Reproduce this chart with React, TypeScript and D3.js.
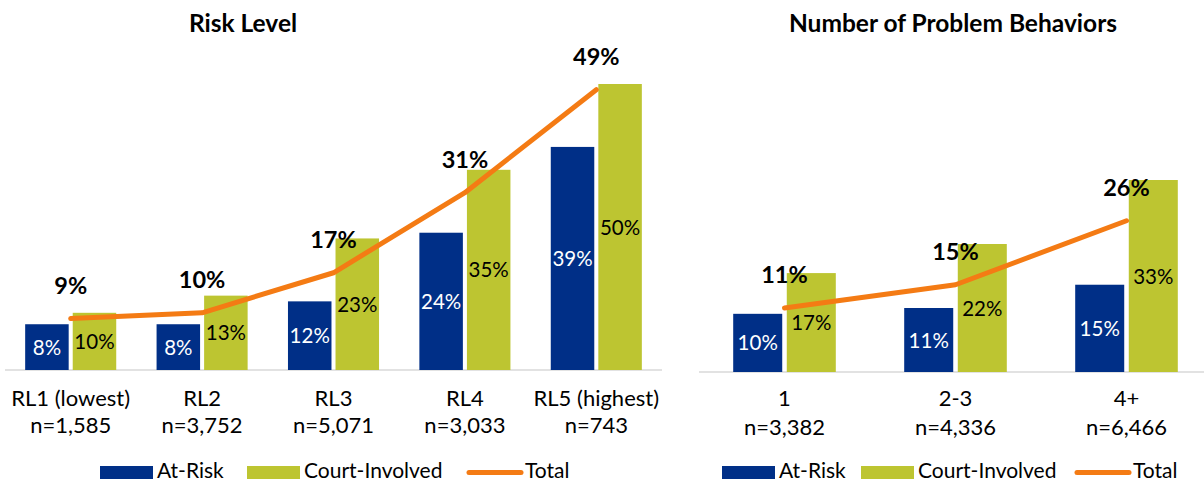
import React from "react";
import { scaleBand, scaleLinear, line } from "d3";

// Risk Level panel
const riskCats = ["RL1 (lowest)", "RL2", "RL3", "RL4", "RL5 (highest)"];
const riskN = ["n=1,585", "n=3,752", "n=5,071", "n=3,033", "n=743"];
const riskAtRisk = [8, 8, 12, 24, 39];
const riskCourt = [10, 13, 23, 35, 50];
const riskTotal = [9, 10, 17, 31, 49];

// Number of Problem Behaviors panel
const probCats = ["1", "2-3", "4+"];
const probN = ["n=3,382", "n=4,336", "n=6,466"];
const probAtRisk = [10, 11, 15];
const probCourt = [17, 22, 33];
const probTotal = [11, 15, 26];

const seriesNames = ["At-Risk", "Court-Involved"];
const NAVY = "#002F87";
const GREEN = "#BDC531";
const ORANGE = "#F47B14";
const FONT = "Lato, 'Noto Sans', sans-serif";

const Panel = ({ title, titleX, cats, nLabels, atRisk, court, total, xRange, yRange, yMax, axisEnd, inner, legendX, legendOff, catY }) => {
  const x0 = scaleBand()
    .domain(cats)
    .range(xRange)
    .paddingInner(inner)
    .paddingOuter(inner / 2);
  const x1 = scaleBand().domain(seriesNames).range([0, x0.bandwidth()]).paddingInner(0.085);
  const y = scaleLinear().domain([0, yMax]).range(yRange);
  const base = y(0);
  const center = (c) => x0(c) + x0.bandwidth() / 2;
  const pts = cats.map((c, i) => [center(c), y(total[i])]);
  const path = line()(pts);
  const vals = [atRisk, court];
  const [courtOff, lineOff] = legendOff;

  return (
    <g>
      <text x={titleX} y={32} textAnchor="middle" fontWeight="bold" fontSize={24.5} fontFamily={FONT}>
        {title}
      </text>
      <line x1={xRange[0]} x2={axisEnd} y1={base} y2={base} stroke="#D9D9D9" strokeWidth={1.5} />
      {cats.map((c, i) =>
        seriesNames.map((s, j) => {
          const v = vals[j][i];
          const bx = x0(c) + x1(s);
          const top = y(v);
          return (
            <g key={c + s}>
              <rect x={bx} y={top} width={x1.bandwidth()} height={base - top} fill={j === 0 ? NAVY : GREEN} />
              <text
                x={bx + x1.bandwidth() / 2}
                y={(top + base) / 2 + 7.5}
                textAnchor="middle"
                fontSize={20.5}
                fontFamily={FONT}
                fill={j === 0 ? "#fff" : "#000"}
              >
                {v}%
              </text>
            </g>
          );
        })
      )}
      <path d={path} fill="none" stroke={ORANGE} strokeWidth={5} strokeLinecap="round" strokeLinejoin="round" />
      {cats.map((c, i) => (
        <text key={"t" + c} x={pts[i][0]} y={pts[i][1] - 25} textAnchor="middle" fontWeight="bold" fontSize={23.5} fontFamily={FONT}>
          {total[i]}%
        </text>
      ))}
      {cats.map((c, i) => (
        <text key={"c" + c} x={center(c)} textAnchor="middle" fontSize={22} fontFamily={FONT} fill="#000">
          <tspan x={center(c)} y={catY[0]}>{c}</tspan>
          <tspan x={center(c)} y={catY[1]}>{nLabels[i]}</tspan>
        </text>
      ))}
      <g transform={`translate(${legendX},0)`} fontFamily={FONT} fontSize={21}>
        <rect x={0} y={466} width={53} height={13} fill={NAVY} />
        <text x={57} y={478}>At-Risk</text>
        <rect x={courtOff} y={466} width={53} height={13} fill={GREEN} />
        <text x={courtOff + 57} y={478}>Court-Involved</text>
        <line x1={lineOff + 2} x2={lineOff + 54} y1={472.5} y2={472.5} stroke={ORANGE} strokeWidth={5} strokeLinecap="round" />
        <text x={lineOff + 58} y={478}>Total</text>
      </g>
    </g>
  );
};

export default function App() {
  return (
    <svg width={1204} height={483} style={{ position: "absolute", left: 0, top: 0, background: "#fff" }}>
      <Panel
        title="Risk Level"
        titleX={243}
        cats={riskCats}
        nLabels={riskN}
        atRisk={riskAtRisk}
        court={riskCourt}
        total={riskTotal}
        xRange={[5, 662]}
        yRange={[370, 84]}
        yMax={50}
        axisEnd={662}
        inner={0.307}
        legendX={100}
        legendOff={[147, 367]}
        catY={[406, 433]}
      />
      <Panel
        title="Number of Problem Behaviors"
        titleX={953}
        cats={probCats}
        nLabels={probN}
        atRisk={probAtRisk}
        court={probCourt}
        total={probTotal}
        xRange={[699, 1212]}
        yRange={[372, 180]}
        yMax={33}
        axisEnd={1204}
        inner={0.4}
        legendX={722}
        legendOff={[139, 353]}
        catY={[406, 435]}
      />
    </svg>
  );
}
